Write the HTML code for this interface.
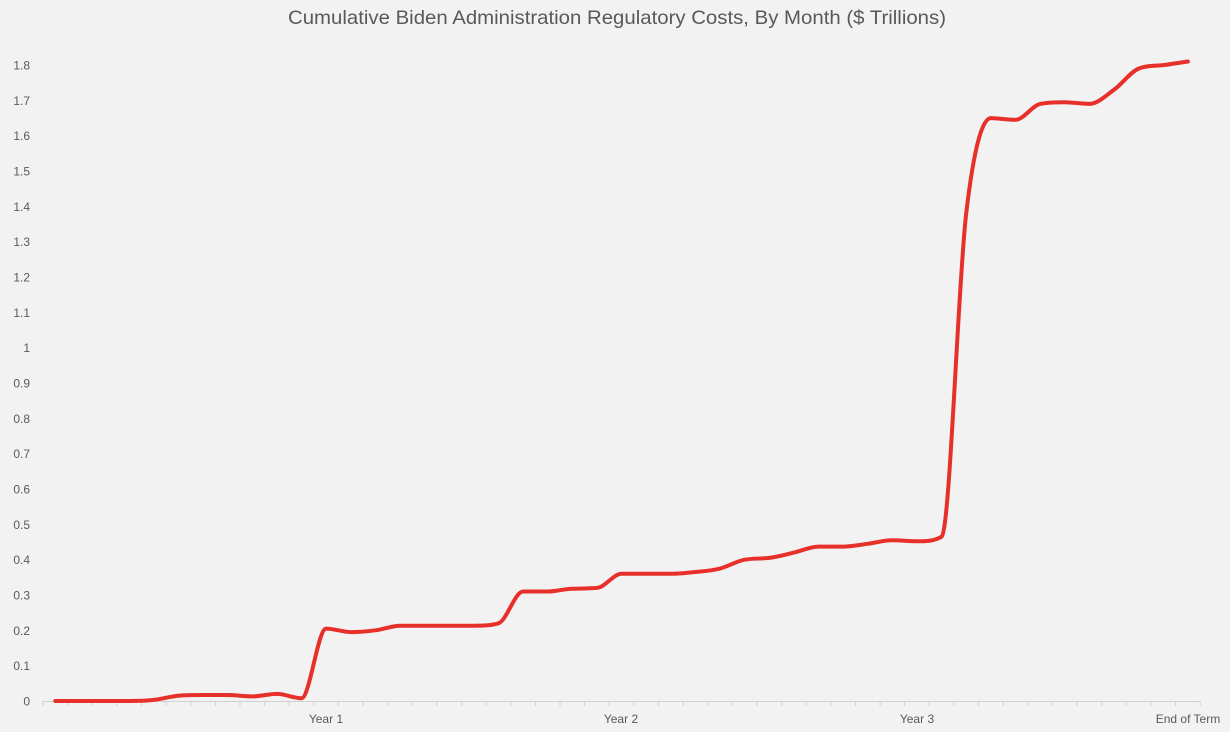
<!DOCTYPE html>
<html><head><meta charset="utf-8">
<style>
html,body{margin:0;padding:0;background:#f2f2f2;}
svg{display:block;}
text{font-family:"Liberation Sans",sans-serif;fill:#595959;}
</style></head>
<body>
<svg id="c" width="1230" height="732" viewBox="0 0 1230 732" xmlns="http://www.w3.org/2000/svg">
<rect width="1230" height="732" fill="#f2f2f2"/>
<text x="288" y="24" font-size="19.5" textLength="658" lengthAdjust="spacingAndGlyphs">Cumulative Biden Administration Regulatory Costs, By Month ($ Trillions)</text>
<g id="yl" font-size="12" text-anchor="end"></g>
<line x1="43" y1="701.5" x2="1200" y2="701.5" stroke="#d0d0d0" stroke-width="1"/>
<g id="ticks" stroke="#d0d0d0" stroke-width="1"></g>
<g font-size="12" text-anchor="middle">
<text x="326" y="723">Year 1</text>
<text x="621" y="723">Year 2</text>
<text x="917" y="723">Year 3</text>
<text x="1188" y="723">End of Term</text>
</g>
<path id="ln" d="" fill="none" stroke="#e8302a" stroke-width="4" stroke-linecap="round" stroke-linejoin="round"/>
</svg>
<script>
var ns="http://www.w3.org/2000/svg";
var yl=document.getElementById('yl');
var labs=["0","0.1","0.2","0.3","0.4","0.5","0.6","0.7","0.8","0.9","1","1.1","1.2","1.3","1.4","1.5","1.6","1.7","1.8"];
for(var i=0;i<19;i++){var t=document.createElementNS(ns,'text');t.setAttribute('x','30');t.setAttribute('y',(701-i*35.33+4.5).toFixed(1));t.textContent=labs[i];yl.appendChild(t);}
var tk=document.getElementById('ticks');
for(var i=0;i<=47;i++){var x=43+i*24.62;var l=document.createElementNS(ns,'line');l.setAttribute('x1',x);l.setAttribute('x2',x);l.setAttribute('y1',701);l.setAttribute('y2',706);tk.appendChild(l);}
var v=[0,0,0,0,0.003,0.015,0.017,0.017,0.013,0.02,0.008,0.205,0.195,0.2,0.213,0.213,0.213,0.213,0.22,0.31,0.31,0.318,0.32,0.36,0.36,0.36,0.365,0.375,0.4,0.405,0.42,0.437,0.437,0.445,0.455,0.452,0.465,1.38,1.65,1.645,1.69,1.695,1.69,1.73,1.79,1.80,1.81];
var n=v.length,h=24.62;
var x=v.map(function(a,i){return 55.3+h*i;});
var y=v.map(function(a){return 701-a*353.3;});
var dl=[],m=[];
for(var i=0;i<n-1;i++)dl.push((y[i+1]-y[i])/h);
m[0]=dl[0];m[n-1]=dl[n-2];
for(var i=1;i<n-1;i++){ if(dl[i-1]*dl[i]<=0)m[i]=0; else m[i]=(dl[i-1]+dl[i])/2; }
for(var i=0;i<n-1;i++){
 if(dl[i]==0){m[i]=0;m[i+1]=0;continue;}
 var a=m[i]/dl[i],b=m[i+1]/dl[i],s=a*a+b*b;
 if(s>9){var t=3/Math.sqrt(s);m[i]=t*a*dl[i];m[i+1]=t*b*dl[i];}
}
var d="M"+x[0].toFixed(1)+","+y[0].toFixed(1);
for(var i=0;i<n-1;i++){
 d+=" C"+(x[i]+h/3).toFixed(1)+","+(y[i]+m[i]*h/3).toFixed(1)+" "+(x[i+1]-h/3).toFixed(1)+","+(y[i+1]-m[i+1]*h/3).toFixed(1)+" "+x[i+1].toFixed(1)+","+y[i+1].toFixed(1);
}
document.getElementById('ln').setAttribute('d',d);
</script>
</body></html>
